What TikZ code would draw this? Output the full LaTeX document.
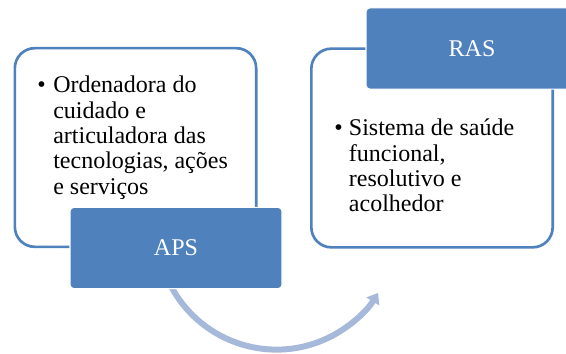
\documentclass[tikz,border=0pt]{standalone}
\usepackage{fontspec}
\setmainfont{Liberation Serif}
\usetikzlibrary{arrows.meta,calc}
\definecolor{boxblue}{RGB}{79,129,189}
\definecolor{arcblue}{RGB}{167,185,218}

\begin{document}
\begin{tikzpicture}[x=0.75pt, y=-0.75pt]
        \tikzstyle{every node}=[inner sep=0pt, font=\rmfamily\fontsize{18}{19}\selectfont]
        \tikzstyle{panel}=[draw=boxblue, line width=2pt, fill=white, rounded corners=15pt, minimum width=181pt, minimum height=149pt]
        \tikzstyle{tagbox}=[draw=white, line width=0.8pt, fill=boxblue, text=white, rounded corners=3pt, minimum width=159pt, minimum height=61pt]
        \tikzstyle{bullets}=[anchor=north west]
        \useasboundingbox (0,0) rectangle (566,353);
        \coordinate (arccenter) at (276.5,230.2);
        \draw [arcblue, line width=4.5pt, -{Triangle[length=7.5pt, width=11pt]}] ($(arccenter)+(152:119.4)$) arc [start angle=152, end angle=31.7, radius=119.4];
        \node [panel] (apsbox) at (135.5,147.5) {};
        \node [panel] (rasbox) at (432,148) {};
        \node [bullets] (apstext) at (37,76) {\makebox[12pt][l]{\textbullet}\parbox[t]{160pt}{\raggedright Ordenadora do\\ cuidado e\\ articuladora das\\ tecnologias, ações\\ e serviços}};
        \node [bullets] (rastext) at (334,119) {\makebox[11pt][l]{\textbullet}\parbox[t]{150pt}{\raggedright Sistema de saúde\\ funcional,\\ resolutivo e\\ acolhedor}};
        \node [tagbox] (aps) at (176,248) {APS};
        \node [tagbox] (ras) at (472,48.5) {RAS};
    \end{tikzpicture}
\end{document}
